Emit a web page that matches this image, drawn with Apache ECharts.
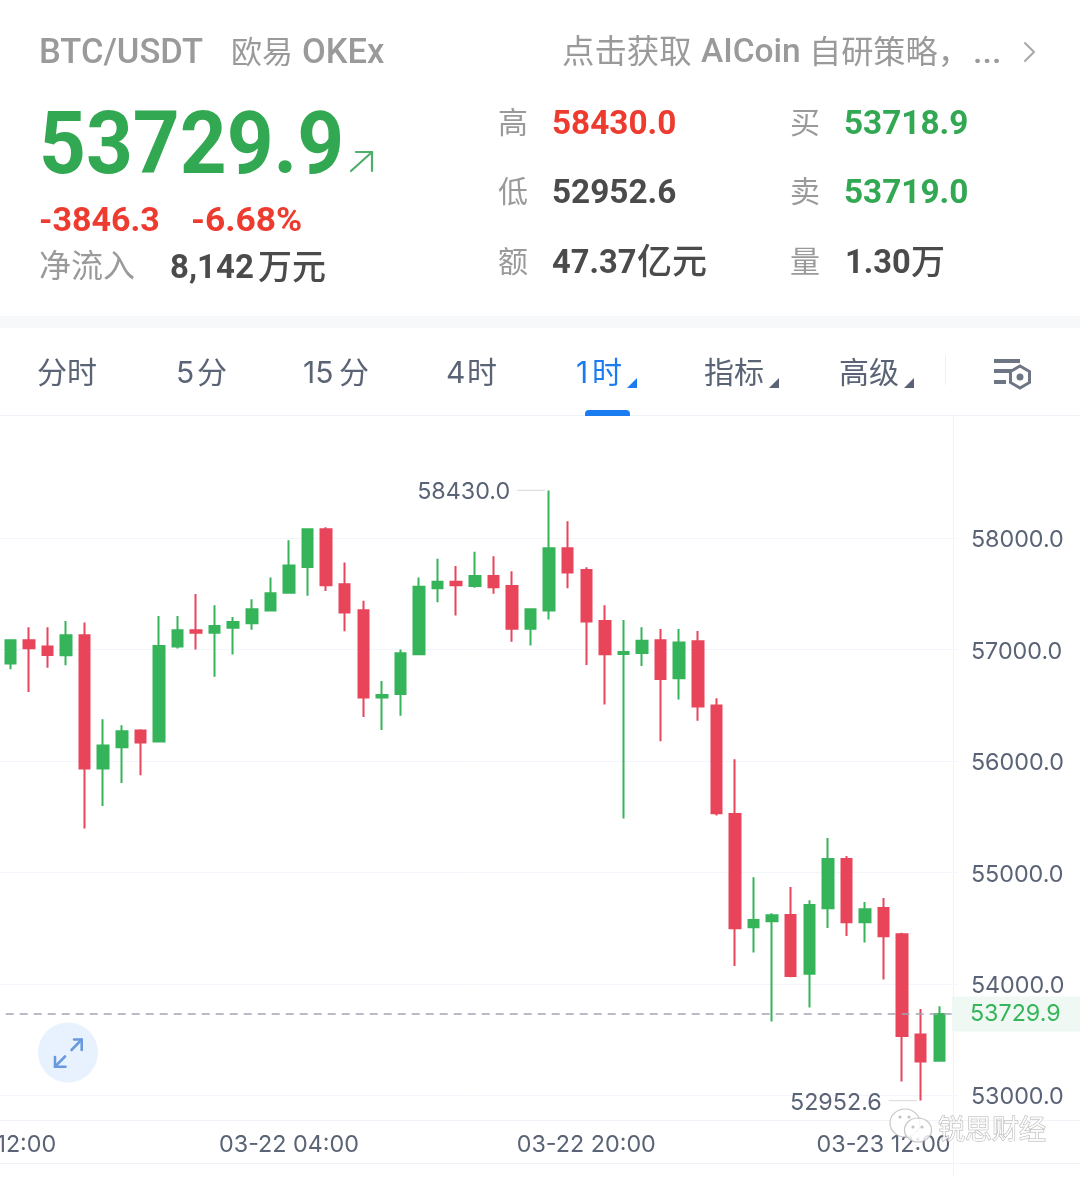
<!DOCTYPE html>
<html><head><meta charset="utf-8">
<style>html,body{margin:0;padding:0;background:#fff}#c{width:1080px;height:1177px}</style>
<script src="https://cdn.jsdelivr.net/npm/echarts@6/dist/echarts.min.js"></script>
</head><body><div id="c"></div>
<script>
const categories=['03-21 12:00','03-21 13:00','03-21 14:00','03-21 15:00','03-21 16:00','03-21 17:00','03-21 18:00','03-21 19:00','03-21 20:00','03-21 21:00','03-21 22:00','03-21 23:00','03-22 00:00','03-22 01:00','03-22 02:00','03-22 03:00','03-22 04:00','03-22 05:00','03-22 06:00','03-22 07:00','03-22 08:00','03-22 09:00','03-22 10:00','03-22 11:00','03-22 12:00','03-22 13:00','03-22 14:00','03-22 15:00','03-22 16:00','03-22 17:00','03-22 18:00','03-22 19:00','03-22 20:00','03-22 21:00','03-22 22:00','03-22 23:00','03-23 00:00','03-23 01:00','03-23 02:00','03-23 03:00','03-23 04:00','03-23 05:00','03-23 06:00','03-23 07:00','03-23 08:00','03-23 09:00','03-23 10:00','03-23 11:00','03-23 12:00','03-23 13:00','03-23 14:00','03-23 15:00','03-23 16:00'];
const opens =[56875,57084,57028,56950,57129,55933,56124,56274,56175,57028,57174,57153,57198,57237,57351,57512,57743,58081,57587,57354,56570,56603,56959,57551,57611,57572,57662,57572,57189,57351,57910,57716,57258,56962,56971,57084,56743,57075,56498,55526,54508,54562,54619,54092,54679,55122,54553,54682,54446,53545,53309];
const closes=[57084,57013,56953,57129,55933,56139,56268,56166,57034,57174,57153,57213,57249,57363,57506,57755,58081,57578,57333,56570,56594,56968,57566,57611,57578,57662,57560,57189,57363,57910,57692,57252,56959,56980,57081,56737,57064,56489,55532,54499,54574,54616,54071,54709,55122,54553,54670,54428,53533,53303,53729.9];
const lows  =[56824,56621,56839,56860,55394,55597,55804,55873,56175,57010,57001,56758,56956,57180,57351,57512,57485,57527,57165,56396,56280,56408,56959,57426,57306,57557,57503,57072,57037,57270,57551,56863,56507,55484,56854,56178,56552,56363,55511,54161,54281,53662,54060,53787,54502,54431,54371,54039,53123,52952.6,53309];
const highs =[57090,57201,57201,57258,57243,56375,56321,56286,57303,57303,57500,57399,57294,57452,57647,57982,58087,58099,57782,57440,56719,57001,57647,57817,57752,57880,57838,57704,57369,58430,58153,57740,57399,57267,57201,57186,57186,57168,56564,56016,54957,54634,54870,54751,55310,55149,54736,54772,54460,53775,53799];
const yTicks=[53000,54000,55000,56000,57000,58000];
const lastPrice=53729.9, highPrice=58430.0, lowPrice=52952.6;

const candleData=[['-','-','-','-']];
opens.forEach((o,i)=>candleData.push([o,closes[i],lows[i],highs[i]]));
candleData.push(['-','-','-','-']);

const LAT='Roboto,"Noto Sans CJK SC"', CJK='"Noto Sans CJK SC"', UI='Inter,"Noto Sans CJK SC"';
const GRAY='#9a9a9a', DARK='#4b4b4b', RED='#ee3b30', GREEN='#33a853', SLATE='#5b6476', BLUE='#1a7cf0', LINE='#f0f4fa';
const AX=23.3;
const g=[];
function t(x,y,text,size,fill,opt){opt=opt||{};const f=opt.f||LAT;const dy=f===LAT?3:(f===UI?2:0);g.push({type:'text',x:x,y:y+dy,scaleX:opt.sx||1,z:opt.z||5,silent:true,
  style:{text:text,fill:fill,font:(opt.w||400)+' '+size+'px '+f,textAlign:opt.a||'left',textVerticalAlign:'middle',stroke:opt.stroke,lineWidth:opt.lw||0,opacity:opt.op==null?1:opt.op}});}
function rect(x,y,w,h,fill,r,z){g.push({type:'rect',silent:true,z:z||1,shape:{x:x,y:y,width:w,height:h,r:r||0},style:{fill:fill}});}
function pl(pts,stroke,lw,z){g.push({type:'polyline',silent:true,z:z||5,shape:{points:pts},style:{stroke:stroke,lineWidth:lw,fill:null,lineCap:'round',lineJoin:'round'}});}
function tri(pts,fill){g.push({type:'polygon',silent:true,z:5,shape:{points:pts},style:{fill:fill}});}

// header
t(39,51,'BTC/USDT',34.5,GRAY,{w:500});
t(231,51,'欧易',31,GRAY,{f:CJK});
t(302,51,'OKEx',34.5,GRAY,{w:500});
t(562,51,'点击获取',32.4,GRAY,{f:CJK});
t(701,51,'AICoin',33.5,GRAY,{w:500});
t(809,51,'自研策略，',32.2,GRAY,{f:CJK});
t(973,51,'...',34,GRAY,{w:500});
pl([[1025,43],[1034,52],[1025,61]],'#a8a8a8',2);
// big price
t(39,148,'53729.9',87,GREEN,{w:700,sx:0.94});
pl([[351,171],[372,152]],'#4fae6a',2.2);pl([[356,152],[372,152],[372,171]],'#4fae6a',2.2);
t(39,219,'-3846.3',34,RED,{w:700,sx:1});
t(191,219,'-6.68%',34,RED,{w:700,sx:1.04});
t(39,265,'净流入',32,GRAY,{f:CJK});
t(170,266,'8,142',34,DARK,{w:700,sx:0.97});
t(258,266,'万元',34,DARK,{f:CJK,w:500});
// stats
t(498,122,'高',30,GRAY,{f:CJK});t(498,191,'低',30,GRAY,{f:CJK});t(498,261,'额',30,GRAY,{f:CJK});
t(552,122,'58430.0',34,RED,{w:700,sx:0.98});
t(552,191,'52952.6',34,DARK,{w:700,sx:0.98});
t(552,261,'47.37',34,DARK,{w:700,sx:0.96});
t(637,261,'亿元',35,DARK,{f:CJK,w:500});
t(790,122,'买',30,GRAY,{f:CJK});t(790,191,'卖',30,GRAY,{f:CJK});t(790,261,'量',30,GRAY,{f:CJK});
t(844,122,'53718.9',34,GREEN,{w:700,sx:0.98});
t(844,191,'53719.0',34,GREEN,{w:700,sx:0.98});
t(845,261,'1.30',34,DARK,{w:700,sx:0.96});
t(911,261,'万',34,DARK,{f:CJK,w:500});
rect(0,316,1080,12,'#f7f8fa');
// tabs
t(37,372,'分时',30,SLATE,{f:UI});
t(176,372,'5',30,SLATE,{f:UI});t(197,372,'分',30,SLATE,{f:UI});
t(303,372,'15',30,SLATE,{f:UI});t(339,372,'分',30,SLATE,{f:UI});
t(446,372,'4',30,SLATE,{f:UI});t(467,372,'时',30,SLATE,{f:UI});
t(576,372,'1',30,BLUE,{f:UI});t(592,372,'时',30,BLUE,{f:UI});
tri([[637,378],[637,388],[627,388]],BLUE);
t(704,372,'指标',30,SLATE,{f:UI});tri([[779,378],[779,388],[769,388]],SLATE);
t(839,372,'高级',30,SLATE,{f:UI});tri([[914,378],[914,388],[904,388]],SLATE);
rect(945,355,1,30,'#eef0f4');
rect(585,410,45,6,BLUE,[4,4,0,0],3);
rect(0,415,1080,1,LINE);
// settings icon
rect(994,359,26,4,'#6e7686');rect(994,369,18,4,'#6e7686');rect(994,380,12,4,'#6e7686');
g.push({type:'polygon',silent:true,z:5,shape:{points:[[1020,366],[1029.5,371.5],[1029.5,382.5],[1020,388],[1010.5,382.5],[1010.5,371.5]]},style:{fill:'#fff',stroke:'#6e7686',lineWidth:3}});
g.push({type:'circle',silent:true,z:5,shape:{cx:1020,cy:377,r:3.5},style:{fill:'#6e7686'}});
// chart furniture
rect(953,416,1,761,LINE,0,0);
rect(0,1120,1080,1,LINE,0,0);
rect(0,1163,1080,1,LINE,0,0);
// expand button
g.push({type:'circle',silent:true,z:6,shape:{cx:68,cy:1052.5,r:30},style:{fill:'#e8f2fe'}});
pl([[71.5,1050],[81.7,1039.5]],'#6a9ade',2.6,7);pl([[74,1039.5],[81.7,1039.5],[81.7,1050]],'#6a9ade',2.6,7);
pl([[65,1056.5],[55,1066.7]],'#6a9ade',2.6,7);pl([[55,1057],[55,1066.7],[65.5,1066.7]],'#6a9ade',2.6,7);
// watermark
const wm={fill:'rgba(255,255,255,0.82)',stroke:'rgba(185,185,185,0.8)',lineWidth:1.2};
g.push({type:'ellipse',silent:true,z:20,shape:{cx:905,cy:1123,rx:15,ry:14},style:wm});
g.push({type:'ellipse',silent:true,z:21,shape:{cx:918,cy:1130,rx:13.5,ry:12},style:wm});
[[900,1117],[909,1117],[913,1127],[922,1127]].forEach(p=>g.push({type:'circle',silent:true,z:22,shape:{cx:p[0],cy:p[1],r:1.6},style:{fill:'#c4c4c4'}}));
t(938,1129,'锐思财经',27,'rgba(255,255,255,0.85)',{f:CJK,z:22,stroke:'rgba(170,170,170,0.9)',lw:1});

const chart=echarts.init(document.getElementById('c'),null,{renderer:'canvas',width:1080,height:1177});
const mpLabel=v=>({show:true,position:'left',distance:7,verticalAlign:'top',lineHeight:4,formatter:v.toFixed(1),color:SLATE,fontFamily:'Inter',fontSize:AX});
chart.setOption({
  animation:false,backgroundColor:'#fff',
  grid:{left:-8.3,right:122.1,top:416,bottom:57,containLabel:false,outerBoundsMode:'none'},
  xAxis:{type:'category',data:categories,boundaryGap:false,
    axisLine:{show:false},axisTick:{show:false},splitLine:{show:false},
    axisLabel:{interval:15,color:SLATE,fontFamily:'Inter',fontSize:AX,margin:13,hideOverlap:false}},
  yAxis:{type:'value',position:'right',min:52778.2,max:59097.8,
    axisLine:{show:false},axisTick:{show:false,customValues:yTicks},
    splitLine:{show:true,lineStyle:{color:'#f2f5fb',width:1}},
    axisLabel:{customValues:yTicks,color:SLATE,fontFamily:'Inter',fontSize:AX,margin:13,verticalAlign:'top',lineHeight:4,formatter:v=>v.toFixed(1)}},
  series:[{type:'candlestick',data:candleData,barWidth:11,z:3,
    itemStyle:{color:'#35b45a',color0:'#e8445a',borderColor:'#35b45a',borderColor0:'#e8445a',borderWidth:2},
    markPoint:{silent:true,animation:false,symbol:'rect',
      data:[
       {coord:[categories[30],highPrice],symbolSize:[28,1.2],symbolOffset:[-18,0],itemStyle:{color:'#dcdee2'},label:mpLabel(highPrice)},
       {coord:[categories[50],lowPrice],symbolSize:[28,1.2],symbolOffset:[-18,0],itemStyle:{color:'#dcdee2'},label:mpLabel(lowPrice)}
      ]},
    markLine:{silent:true,animation:false,symbol:'none',precision:1,
      lineStyle:{color:'#a0a7b5',type:[8,6],width:1.5},
      label:{show:true,position:'end',distance:-6,formatter:lastPrice.toFixed(1),color:'#36b55b',fontFamily:'Inter',fontSize:AX,
        backgroundColor:'#f0f8f4',width:112,height:35,lineHeight:38,padding:[0,0,0,18],align:'left',verticalAlign:'middle'},
      data:[{yAxis:lastPrice}]}
  }],
  graphic:{elements:g}
});
</script></body></html>
